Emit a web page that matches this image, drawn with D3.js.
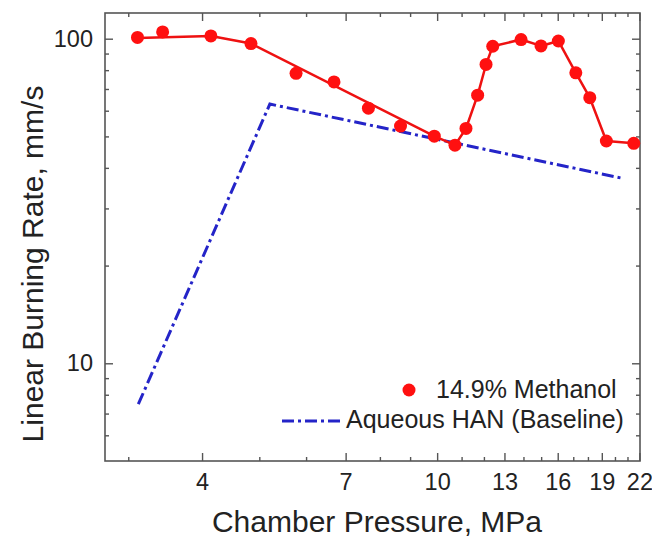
<!DOCTYPE html>
<html>
<head>
<meta charset="utf-8">
<script src="https://cdn.jsdelivr.net/npm/d3@7/dist/d3.min.js"></script>
<style>
  html, body { margin: 0; padding: 0; background: #fff; }
  svg { display: block; font-family: "Liberation Sans", Arial, sans-serif; }
</style>
</head>
<body>
<svg id="chart" width="652" height="540"></svg>
<script>
// ---- data ----
const methanolP    = [3.11, 3.43, 4.14, 4.84, 5.77, 6.69, 7.65, 8.67, 9.89, 10.72, 11.19, 11.71, 12.10, 12.42, 13.87, 14.99, 16.04, 17.17, 18.13, 19.34, 21.52];
const methanolRate = [100.9, 104.9, 102.0, 96.6, 78.2, 73.6, 61.1, 53.8, 50.1, 47.0, 52.9, 67.0, 83.3, 94.8, 99.4, 95.0, 98.4, 78.5, 65.8, 48.4, 47.6];
// trend line drawn through the methanol data
const fitP    = [3.11, 4.14, 4.84, 9.89, 10.72, 11.19, 11.71, 12.10, 12.42, 13.87, 14.99, 16.04, 17.17, 18.13, 19.34, 21.52];
const fitRate = [100.5, 102.0, 96.6, 50.1, 47.0, 52.9, 67.0, 83.3, 94.8, 99.4, 95.0, 98.4, 78.5, 65.8, 48.4, 47.6];
// aqueous HAN baseline
const baseP    = [3.12, 5.21, 20.66];
const baseRate = [7.48, 62.9, 37.1];

const xMajor = [4, 7, 10, 13, 16, 19, 22];
const xMinor = [3, 5, 6, 8, 9, 11, 12, 14, 15, 17, 18, 20, 21];
const yMajor = [10, 100];
const yMinor = [6, 7, 8, 9, 20, 30, 40, 50, 60, 70, 80, 90];

const seriesNames = ["14.9% Methanol", "Aqueous HAN (Baseline)"];

// ---- layout ----
const L = 105, R = 640, T = 13, B = 461;
const svg = d3.select("#chart");
const x = d3.scaleLog().domain([2.74, 22.05]).range([L, R]);
const y = d3.scaleLog().domain([5, 120]).range([B, T]);

const axisColor = "#555";
const textColor = "#222";

// frame
svg.append("rect").attr("x", L).attr("y", T).attr("width", R - L).attr("height", B - T)
  .attr("fill", "none").attr("stroke", axisColor).attr("stroke-width", 1.6);

// axes with inward ticks
function addAxis(gen, tr, vals, size, labels) {
  const g = svg.append("g").attr("transform", tr)
    .call(gen.tickValues(vals).tickSizeInner(size).tickSizeOuter(0)
      .tickFormat(labels ? d3.format("d") : () => ""));
  g.select(".domain").remove();
  g.selectAll(".tick line").attr("stroke", axisColor).attr("stroke-width", 1.4);
  g.selectAll(".tick text").attr("fill", textColor).attr("font-size", 23.5)
    .attr("font-family", "'Liberation Sans', Arial, sans-serif");
  return g;
}
// bottom
const gb = addAxis(d3.axisBottom(x), `translate(0,${B})`, xMajor, -8, true);
gb.selectAll(".tick text").attr("y", 12);
addAxis(d3.axisBottom(x), `translate(0,${B})`, xMinor, -4, false);
// top
addAxis(d3.axisTop(x), `translate(0,${T})`, xMajor, -8, false);
addAxis(d3.axisTop(x), `translate(0,${T})`, xMinor, -4, false);
// left
const gl = addAxis(d3.axisLeft(y), `translate(${L},0)`, yMajor, -8, true);
gl.selectAll(".tick text").attr("x", -12);
addAxis(d3.axisLeft(y), `translate(${L},0)`, yMinor, -4, false);
// right
addAxis(d3.axisRight(y), `translate(${R},0)`, yMajor, -8, false);
addAxis(d3.axisRight(y), `translate(${R},0)`, yMinor, -4, false);

// axis titles
svg.append("text").attr("x", 377).attr("y", 532).attr("text-anchor", "middle")
  .attr("font-size", 30).attr("fill", textColor).text("Chamber Pressure, MPa");
svg.append("text").attr("transform", "translate(43,264) rotate(-90)").attr("text-anchor", "middle")
  .attr("font-size", 30).attr("fill", textColor).text("Linear Burning Rate, mm/s");

// baseline line
const line = d3.line().x(d => x(d[0])).y(d => y(d[1]));
svg.append("path").datum(baseP.map((p, i) => [p, baseRate[i]]))
  .attr("d", line).attr("fill", "none").attr("stroke", "#2424c8")
  .attr("stroke-width", 3).attr("stroke-dasharray", "12,4,3,4");

// methanol trend line
svg.append("path").datum(fitP.map((p, i) => [p, fitRate[i]]))
  .attr("d", line).attr("fill", "none").attr("stroke", "#ee1111")
  .attr("stroke-width", 2.5).attr("stroke-linejoin", "round");

// methanol points
svg.append("g").selectAll("circle").data(methanolP.map((p, i) => [p, methanolRate[i]]))
  .join("circle").attr("cx", d => x(d[0])).attr("cy", d => y(d[1])).attr("r", 6.5)
  .attr("fill", "#ff1010");

// legend
svg.append("circle").attr("cx", 409).attr("cy", 390).attr("r", 6.5).attr("fill", "#ff1010");
svg.append("text").attr("x", 436).attr("y", 398).attr("font-size", 25).attr("fill", textColor)
  .text(seriesNames[0]);
svg.append("line").attr("x1", 282).attr("x2", 340).attr("y1", 421).attr("y2", 421)
  .attr("stroke", "#2424c8").attr("stroke-width", 3).attr("stroke-dasharray", "12,4,3,4");
svg.append("text").attr("x", 346).attr("y", 428).attr("font-size", 25).attr("fill", textColor)
  .text(seriesNames[1]);
</script>
</body>
</html>
